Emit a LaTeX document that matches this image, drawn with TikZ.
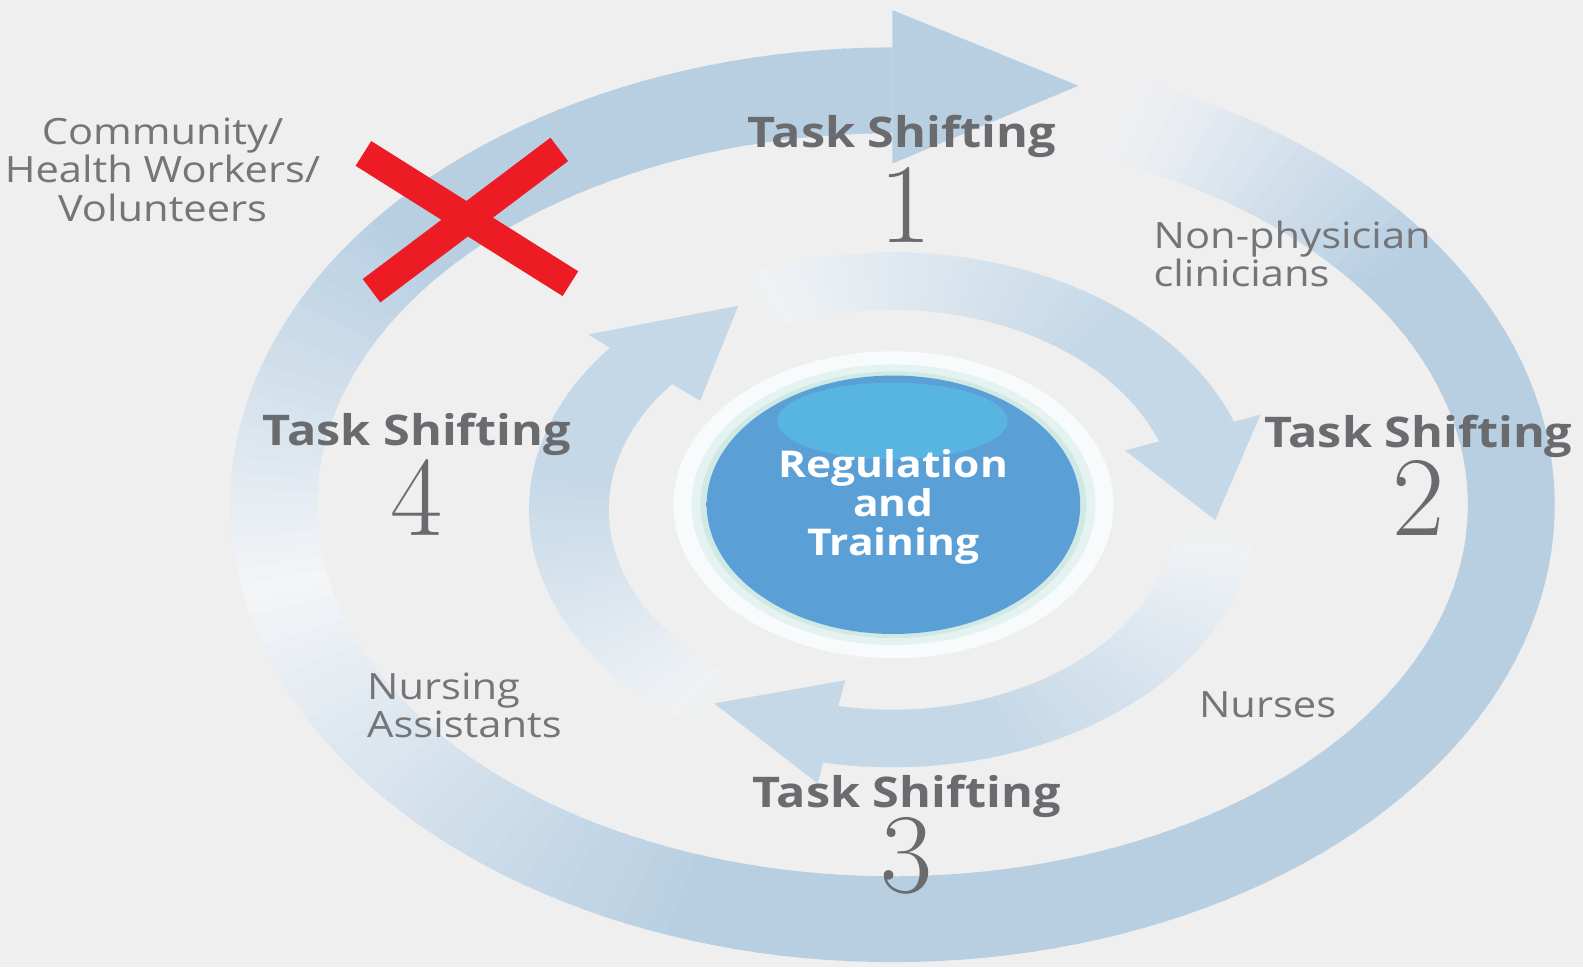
\documentclass[tikz,border=0pt]{standalone}
\usepackage{fontspec}
\newfontfamily\labelfont[FakeStretch=1.15]{Open Sans}
\definecolor{bgray}{RGB}{239,239,239}
\definecolor{ringblue}{RGB}{184,207,226}
\definecolor{ringpale}{RGB}{244,245,247}
\definecolor{arrowblue}{RGB}{197,216,231}
\definecolor{halofill}{RGB}{248,251,251}
\definecolor{halomid}{RGB}{228,243,240}
\definecolor{haloedge}{RGB}{208,233,229}
\definecolor{diskmid}{RGB}{90,160,214}
\definecolor{diskdark}{RGB}{66,130,190}
\definecolor{diskshine}{RGB}{88,180,224}
\definecolor{crossred}{RGB}{237,28,36}
\definecolor{labelgray}{RGB}{106,107,110}
\definecolor{notegray}{RGB}{116,117,121}
\pgfdeclareradialshading{diskshade}{\pgfpoint{0bp}{0bp}}{color(0bp)=(diskmid); color(40bp)=(diskmid); color(50bp)=(diskdark)}

\begin{document}
\begin{tikzpicture}[
        x=0.01cm, y=0.01cm,
        tslabel/.style={font=\labelfont\bfseries\fontsize{11.9}{12}\selectfont, text=labelgray, anchor=base, inner sep=0pt, text depth=0pt},
        numlabel/.style={font=\fontsize{32}{32}\selectfont, text=labelgray, anchor=base, inner sep=0pt, text height=20pt},
        note/.style={font=\labelfont\fontsize{10.2}{10.8}\selectfont, text=notegray, inner sep=0pt}
    ]
    \useasboundingbox (0,0) rectangle (1568,958);
    \fill[bgray] (0,0) rectangle (1568,958);

    % outer ring, tail fades out at the top right
    \begin{scope}[shift={(884,458)}]
        \foreach \a in {90,92,...,428}{
            \pgfmathtruncatemacro\p{\a<140 ? 100 : (\a<190 ? 2*(190-\a) : (\a<250 ? (\a-190)*5/3 : (\a<395 ? 100 : max(0,(430-\a)*20/7))))}
            \pgfmathsetmacro\o{min(1,(431-\a)/14)}
            \fill[ringblue!\p!ringpale, fill opacity=\o] (\a:570 and 368) -- (\a:656 and 453)
                arc[start angle=\a, end angle=\a+2.4, x radius=656, y radius=453]
                -- ({\a+2.4}:570 and 368)
                arc[start angle=\a+2.4, end angle=\a, x radius=570, y radius=368] -- cycle;
        }
        \fill[ringblue] (90:656 and 490) -- (73:630 and 434) -- (90:570 and 338) -- cycle;
    \end{scope}

    % inner cycle of three arrows
    \begin{scope}[shift={(884,453)}]
        \foreach \b in {141,20,259}{
            \foreach \d in {0,2,...,94}{
                \pgfmathtruncatemacro\p{min(100,(96-\d)*1.5)}
                \pgfmathsetmacro\o{min(1,(97-\d)/14)}
                \fill[arrowblue!\p!ringpale, fill opacity=\o] ({\b+\d}:281 and 198) -- ({\b+\d}:360 and 255)
                    arc[start angle=\b+\d, end angle=\b+\d+2.4, x radius=360, y radius=255]
                    -- ({\b+\d+2.4}:281 and 198)
                    arc[start angle=\b+\d+2.4, end angle=\b+\d, x radius=281, y radius=198] -- cycle;
            }
            \fill[arrowblue] (\b:360 and 255) -- (\b:388 and 276) -- ({\b-22.5}:320 and 230)
                -- (\b:245 and 172) -- (\b:281 and 198) -- cycle;
        }
    \end{scope}

    % centre disk
    \begin{scope}[shift={(885,458)}]
        \fill[halofill] (0,0) ellipse[x radius=218, y radius=152];
        \fill[halomid] (0,0) ellipse[x radius=200, y radius=139];
        \fill[haloedge] (0,0) ellipse[x radius=191, y radius=132];
        \shade[shading=diskshade] (0,0) ellipse[x radius=185, y radius=128];
        \fill[diskshine] (-1,83) ellipse[x radius=114, y radius=38];
    \end{scope}
    \node[font=\labelfont\bfseries\fontsize{10.4}{11}\selectfont, text=white, align=center, anchor=base, inner sep=0pt] (reg) at (885,408) {Regulation\\and\\Training};

    % the crossed out level
    \draw[crossred, line width=0.29cm] (360,806) -- (565,677);
    \draw[crossred, line width=0.29cm] (368,670) -- (554,810);

    \node[tslabel] (ts1) at (893,812) {Task Shifting};
    \node[numlabel] (num1) at (897,718) {1};
    \node[tslabel] (ts2) at (1405,515) {Task Shifting};
    \node[numlabel] (num2) at (1405,428) {2};
    \node[tslabel] (ts3) at (898,158) {Task Shifting};
    \node[numlabel] (num3) at (898,74) {3};
    \node[tslabel] (ts4) at (413,517) {Task Shifting};
    \node[numlabel] (num4) at (413,428) {4};

    \node[note, align=center, anchor=base] (chw) at (161,739) {Community/\\Health Workers/\\Volunteers};
    \node[note, align=left, anchor=base west] (npc) at (1142,674) {Non-physician\\clinicians};
    \node[note, align=left, anchor=base west] (nurasst) at (363,227) {Nursing\\Assistants};
    \node[note, anchor=base west] (nurses) at (1187,247) {Nurses};
\end{tikzpicture}
\end{document}
